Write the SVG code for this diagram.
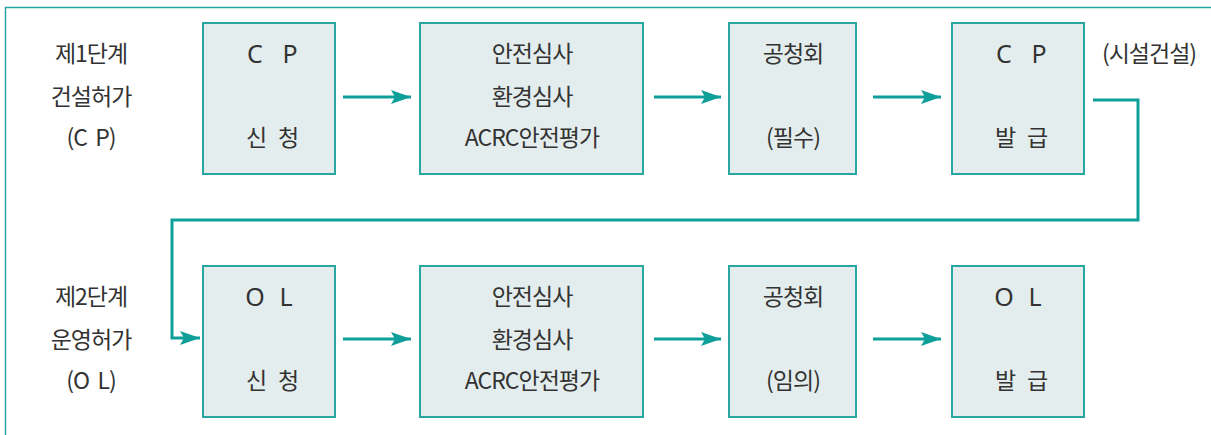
<svg xmlns="http://www.w3.org/2000/svg" width="1211" height="435" viewBox="0 0 1211 435">
<style>
.frame{fill:none;stroke:#2aa6a2;stroke-width:1.5}
.box{fill:#e4eded;stroke:#2aa6a2;stroke-width:2}
.t{font-family:"Noto Sans CJK KR","Noto Sans",sans-serif;font-size:23px;fill:#333;text-anchor:middle;letter-spacing:-1px}
.l{font-family:"Noto Sans","Noto Sans CJK KR",sans-serif;font-size:25px;fill:#333;text-anchor:middle}
.c{fill:none;stroke:#0f9f9a;stroke-width:3}
</style>
<defs>
<marker id="ah" viewBox="0 0 20 14" refX="20" refY="7" markerWidth="20" markerHeight="14" markerUnits="userSpaceOnUse" orient="auto">
<path d="M0,0 L20,7 L0,14 L4,7 Z" fill="#0f9f9a"/>
</marker>
</defs>
<rect class="frame" x="5.5" y="7.5" width="1220" height="440"/>
<g id="label1">
<text class="t" x="91" y="62">제1단계</text>
<text class="t" x="91" y="105">건설허가</text>
<text class="t" x="91" y="146" xml:space="preserve">(C  P)</text>
</g>
<g id="label2">
<text class="t" x="91" y="305">제2단계</text>
<text class="t" x="91" y="348">운영허가</text>
<text class="t" x="91" y="389" xml:space="preserve">(O  L)</text>
</g>
<g id="cp-apply">
<rect class="box" x="203" y="23" width="132" height="151"/>
<text class="l" x="255" y="63">C</text>
<text class="l" x="290" y="63">P</text>
<text class="t" x="256" y="146">신</text>
<text class="t" x="288" y="146">청</text>
</g>
<g id="review1">
<rect class="box" x="420" y="23" width="223" height="151"/>
<text class="t" x="532" y="62">안전심사</text>
<text class="t" x="532" y="105">환경심사</text>
<text class="t" x="532" y="146">ACRC안전평가</text>
</g>
<g id="hearing1">
<rect class="box" x="729" y="23" width="127" height="151"/>
<text class="t" x="793" y="62">공청회</text>
<text class="t" x="793" y="146">(필수)</text>
</g>
<g id="cp-issue">
<rect class="box" x="952" y="23" width="132" height="151"/>
<text class="l" x="1004" y="63">C</text>
<text class="l" x="1039" y="63">P</text>
<text class="t" x="1005" y="146">발</text>
<text class="t" x="1037" y="146">급</text>
</g>
<g id="note">
<text class="t" x="1149" y="62">(시설건설)</text>
</g>
<g id="ol-apply">
<rect class="box" x="203" y="266" width="132" height="151"/>
<text class="l" x="255" y="306">O</text>
<text class="l" x="286" y="306">L</text>
<text class="t" x="256" y="389">신</text>
<text class="t" x="288" y="389">청</text>
</g>
<g id="review2">
<rect class="box" x="420" y="266" width="223" height="151"/>
<text class="t" x="532" y="305">안전심사</text>
<text class="t" x="532" y="348">환경심사</text>
<text class="t" x="532" y="389">ACRC안전평가</text>
</g>
<g id="hearing2">
<rect class="box" x="729" y="266" width="127" height="151"/>
<text class="t" x="793" y="305">공청회</text>
<text class="t" x="793" y="389">(임의)</text>
</g>
<g id="ol-issue">
<rect class="box" x="952" y="266" width="132" height="151"/>
<text class="l" x="1004" y="306">O</text>
<text class="l" x="1035" y="306">L</text>
<text class="t" x="1005" y="389">발</text>
<text class="t" x="1037" y="389">급</text>
</g>
<g id="connectors">
<line class="c" x1="343" y1="97" x2="411" y2="97" marker-end="url(#ah)"/>
<line class="c" x1="654" y1="97" x2="721" y2="97" marker-end="url(#ah)"/>
<line class="c" x1="873" y1="97" x2="941" y2="97" marker-end="url(#ah)"/>
<line class="c" x1="343" y1="339" x2="411" y2="339" marker-end="url(#ah)"/>
<line class="c" x1="654" y1="339" x2="721" y2="339" marker-end="url(#ah)"/>
<line class="c" x1="873" y1="339" x2="941" y2="339" marker-end="url(#ah)"/>
<path class="c" d="M1093,100 H1138 V220 H172 V338 H200" marker-end="url(#ah)"/>
</g>
</svg>
